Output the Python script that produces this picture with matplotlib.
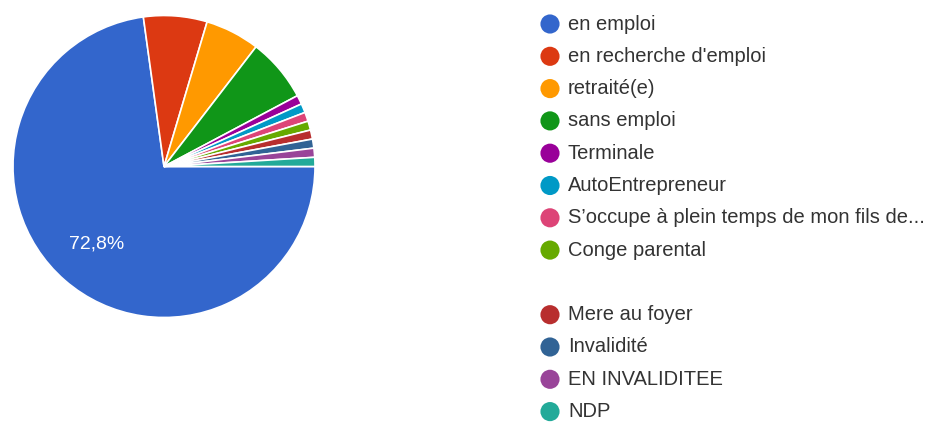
import matplotlib
matplotlib.use("Agg")
import matplotlib.pyplot as plt

plt.rcParams['font.family'] = ['Liberation Sans', 'DejaVu Sans']

categories = [
    "en emploi",
    "en recherche d'emploi",
    "retraité(e)",
    "sans emploi",
    "Terminale",
    "AutoEntrepreneur",
    "S’occupe à plein temps de mon fils de...",
    "Conge parental",
    "Mere au foyer",
    "Invalidité",
    "EN INVALIDITEE",
    "NDP",
]
counts = [75, 7, 6, 7, 1, 1, 1, 1, 1, 1, 1, 1]
colors = [
    "#3366cc", "#dc3912", "#ff9900", "#109618", "#990099", "#0099c6",
    "#dd4477", "#66aa00", "#b82e2e", "#316395", "#994499", "#22aa99",
]

W, H = 941, 426
fig = plt.figure(figsize=(W / 100, H / 100), dpi=100)
fig.patch.set_facecolor("white")

# Pie
cx, cy, r = 164, 166.5, 151
ax = fig.add_axes([(cx - r) / W, (H - cy - r) / H, 2 * r / W, 2 * r / H])


def pct_label(p):
    return f"{p:.1f}%".replace(".", ",") if p > 10 else ""


wedges, texts, autotexts = ax.pie(
    counts,
    colors=colors,
    startangle=0,
    counterclock=False,
    radius=1,
    autopct=pct_label,
    pctdistance=0.68,
    wedgeprops=dict(edgecolor="white", linewidth=1.2),
    textprops=dict(color="white", fontsize=14),
)
ax.set_xlim(-1, 1)
ax.set_ylim(-1, 1)
ax.set_aspect("equal")
ax.axis("off")

# Legend drawn in pixel coordinates on an overlay
lax = fig.add_axes([0, 0, 1, 1])
lax.set_xlim(0, W)
lax.set_ylim(H, 0)
lax.axis("off")
row_h = 32.3
y0 = 24
for i, (name, col) in enumerate(zip(categories, colors)):
    row = i if i < 8 else i + 1
    y = y0 + row * row_h
    lax.scatter([550], [y], s=190, color=col, edgecolors="none")
    lax.text(568, y, name, fontsize=14.5, color="#333333", va="center", ha="left")

fig.savefig("out.png", dpi=100, facecolor="white")
